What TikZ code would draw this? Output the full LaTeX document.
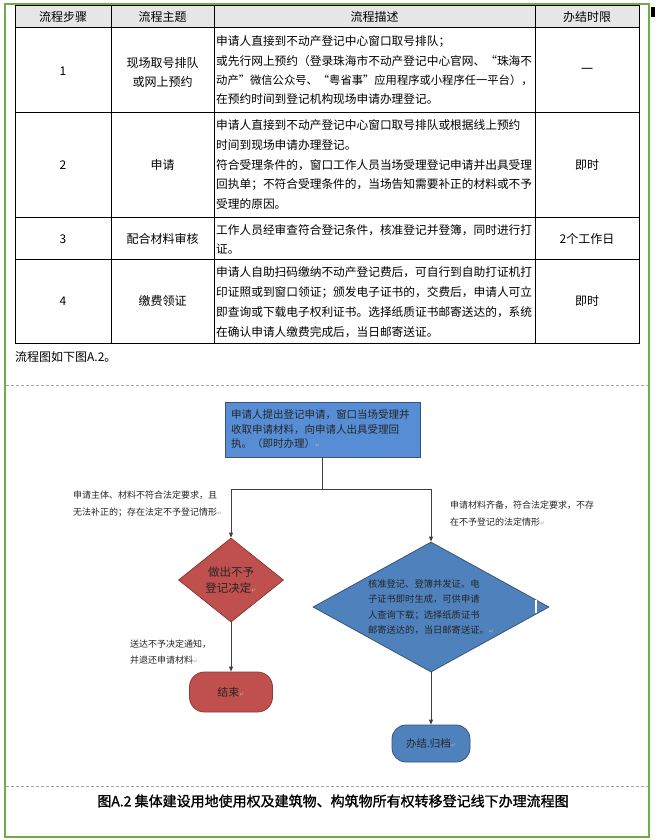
\documentclass[tikz,border=0pt]{standalone}
\usepackage{fontspec}
\setmainfont{Noto Sans CJK SC}
\newfontfamily\dvfont{DejaVu Sans}
\newfontfamily\capfont[FakeBold=1.3]{Noto Sans CJK SC}
\usetikzlibrary{arrows.meta,shapes.geometric}
\definecolor{frameG}{RGB}{112,173,71}
\definecolor{boxBlue}{RGB}{86,141,212}
\definecolor{dBlue}{RGB}{79,129,189}
\definecolor{dRed}{RGB}{192,80,77}
\definecolor{bBlue}{RGB}{56,84,120}
\definecolor{bRed}{RGB}{140,56,54}
\definecolor{hdrGray}{RGB}{230,230,230}
\newcommand\retmark{{\dvfont\color{black!30}\fontsize{6}{6}\selectfont ↵}}
\begin{document}
\begin{tikzpicture}[x=1pt,y=-1pt,
  tline/.style={draw=black,line width=1pt},
  cell/.style={font=\fontsize{12}{14}\selectfont,inner sep=0pt},
  desc/.style={inner sep=0pt,font=\fontsize{11.7}{14}\selectfont,anchor=west},
  conn/.style={draw=black!75,line width=0.8pt},
  arr/.style={conn,-{Triangle[length=5pt,width=4pt]}},
  lbl/.style={font=\fontsize{9}{17}\selectfont,inner sep=0pt,anchor=west,align=left,text=black!85},
  boxtxt/.style={text=black!85}
]
\useasboundingbox (0,0) rectangle (657,840);
\fill[white] (0,0) rectangle (657,840);
% outer green frame
\draw[frameG,line width=1.5pt] (5,4) rectangle (649,837);
\fill[black] (651,7) rectangle (655,17);
% table header
\fill[hdrGray] (15,6) rectangle (639,28);
% table grid
\draw[tline] (15,6) rectangle (639,343);
\foreach \yy in {28,113,217,259} \draw[tline] (15,\yy) -- (639,\yy);
\foreach \xx in {111,214,535} \draw[tline] (\xx,6) -- (\xx,343);
% header texts
\node[cell] (h1) at (63,17) {流程步骤};
\node[cell] (h2) at (162.5,17) {流程主题};
\node[cell] (h3) at (374.5,17) {流程描述};
\node[cell] (h4) at (587,17) {办结时限};
% row 1
\node[cell] (r1a) at (63,71) {1};
\node[cell] (r1b) at (162.5,63) {现场取号排队};
\node[cell] (r1c) at (162.5,82) {或网上预约};
\node[desc] (r1d1) at (216,42) {申请人直接到不动产登记中心窗口取号排队；};
\node[desc] (r1d2) at (216,61) {或先行网上预约（登录珠海市不动产登记中心官网、“珠海不};
\node[desc,font=\fontsize{11.3}{14}\selectfont] (r1d3) at (216,80) {动产”微信公众号、“粤省事”应用程序或小程序任一平台），};
\node[desc] (r1d4) at (216,99) {在预约时间到登记机构现场申请办理登记。};
\node[cell] (r1e) at (587,71) {一};
% row 2
\node[cell] (r2a) at (63,165) {2};
\node[cell] (r2b) at (162.5,165) {申请};
\node[desc] (r2d1) at (216,125) {申请人直接到不动产登记中心窗口取号排队或根据线上预约};
\node[desc] (r2d2) at (216,145) {时间到现场申请办理登记。};
\node[desc] (r2d3) at (216,165) {符合受理条件的，窗口工作人员当场受理登记申请并出具受理};
\node[desc] (r2d4) at (216,185) {回执单；不符合受理条件的，当场告知需要补正的材料或不予};
\node[desc] (r2d5) at (216,204) {受理的原因。};
\node[cell] (r2e) at (587,165) {即时};
% row 3
\node[cell] (r3a) at (63,239) {3};
\node[cell] (r3b) at (162.5,239) {配合材料审核};
\node[desc] (r3d1) at (216,230) {工作人员经审查符合登记条件，核准登记并登簿，同时进行打};
\node[desc] (r3d2) at (216,249) {证。};
\node[cell] (r3e) at (587,239) {2个工作日};
% row 4
\node[cell] (r4a) at (63,301) {4};
\node[cell] (r4b) at (162.5,301) {缴费领证};
\node[desc] (r4d1) at (216,272) {申请人自助扫码缴纳不动产登记费后，可自行到自助打证机打};
\node[desc] (r4d2) at (216,292) {印证照或到窗口领证；颁发电子证书的，交费后，申请人可立};
\node[desc] (r4d3) at (216,312) {即查询或下载电子权利证书。选择纸质证书邮寄送达的，系统};
\node[desc] (r4d4) at (216,332) {在确认申请人缴费完成后，当日邮寄送证。};
\node[cell] (r4e) at (587,301) {即时};
% note
\node[desc,font=\fontsize{12}{14}\selectfont] (note) at (15,357) {流程图如下图A.2。};
% dashed separators
\draw[black!35,line width=0.6pt,dash pattern=on 3pt off 2pt] (6,385) -- (648,385);
\draw[black!35,line width=0.6pt,dash pattern=on 3pt off 2pt] (6,786) -- (648,786);
% flowchart
\node[draw=bBlue,line width=0.8pt,fill=boxBlue,minimum width=195pt,minimum height=55pt,inner sep=0pt,
      text width=183pt,align=left,font=\fontsize{10.5}{14.5}\selectfont,boxtxt] (top) at (322.5,429.5)
  {申请人提出登记申请，窗口当场受理并\\收取申请材料，向申请人出具受理回\\执。（即时办理）\retmark};
\node[diamond,shape aspect=1.25,draw=bRed,line width=0.8pt,fill=dRed,minimum width=105pt,minimum height=84pt,inner sep=0pt,
      align=center,font=\fontsize{11.5}{16}\selectfont,boxtxt] (red) at (231,580)
  {做出不予\\登记决定\retmark};
\node[diamond,shape aspect=1.8,draw=bBlue,line width=0.8pt,fill=dBlue,minimum width=236pt,minimum height=130pt,inner sep=0pt,
      align=left,font=\fontsize{9.3}{15.2}\selectfont,boxtxt] (blue) at (431,607)
  {核准登记、登簿并发证。电\\子证书即时生成，可供申请\\人查询下载；选择纸质证书\\邮寄送达的，当日邮寄送证。\retmark};
\draw[white,line width=1.2pt] (536,600) -- (536,613);
\node[draw=bRed,line width=0.8pt,fill=dRed,rounded corners=15pt,minimum width=83pt,minimum height=40pt,
      inner sep=0pt,font=\fontsize{11}{13}\selectfont,boxtxt] (endn) at (231,692) {结束\retmark};
\node[draw=bBlue,line width=0.8pt,fill=dBlue,rounded corners=14pt,minimum width=78pt,minimum height=37pt,
      inner sep=0pt,font=\fontsize{10.5}{13}\selectfont,boxtxt] (done) at (431,743.5) {办结.归档\retmark};
\coordinate (split) at (322.5,489);
\draw[conn] (top.south) -- (split);
\draw[arr] (split) -| (red.north);
\draw[arr] (split) -| (blue.north);
\draw[arr] (red.south) -- (endn.north);
\draw[arr] (blue.south) -- (done.north);
% labels
\node[lbl] (lblL) at (73,503.5) {申请主体、材料不符合法定要求，且\\无法补正的；存在法定不予登记情形\retmark};
\node[lbl] (lblR) at (450,513.5) {申请材料齐备，符合法定要求，不存\\在不予登记的法定情形\retmark};
\node[lbl,font=\fontsize{9}{16}\selectfont] (lblD) at (130,652) {送达不予决定通知，\\并退还申请材料\retmark};
% caption
\node[inner sep=0pt,font=\capfont\fontsize{14}{16}\selectfont] (cap) at (333,801)
  {图A.2 集体建设用地使用权及建筑物、构筑物所有权转移登记线下办理流程图};
\end{tikzpicture}
\end{document}
